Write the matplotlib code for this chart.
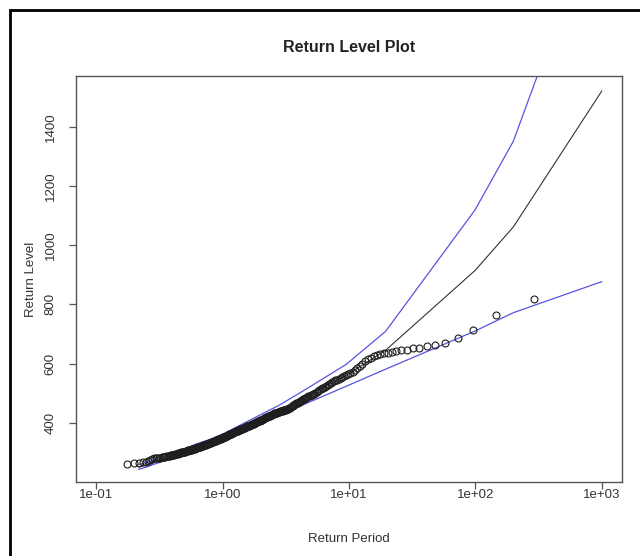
import matplotlib
matplotlib.use("Agg")
import matplotlib.pyplot as plt
import numpy as np
from matplotlib.patches import Rectangle
from matplotlib.ticker import FixedLocator, FixedFormatter, NullLocator

plt.rcParams['font.family'] = ['Liberation Sans', 'DejaVu Sans']

# ---- data ----
# sorted observed values (ascending)
obs = [261, 262, 264, 266, 268, 271, 273, 276, 279,
       280, 281, 281, 282, 283, 284, 284, 285, 286, 287, 287, 288, 289, 290, 290, 291, 292, 293, 293, 294,
       295, 296, 296, 297, 298, 299, 299, 300, 301, 302, 302, 303, 304, 305, 305,
       306, 306, 307, 308, 308, 309, 310, 310, 311, 312, 312, 313, 314, 315, 315, 316, 317, 317, 318, 319,
       319, 320, 321, 321, 322, 323, 323, 324, 325, 326, 326, 327, 328, 328, 329, 330, 330, 331, 332, 332,
       333, 334, 334, 335, 336, 337, 337, 338, 339, 339, 340, 341, 341, 342, 343, 343, 344, 345, 346,
       347, 347, 348, 349, 350, 351, 352, 352, 353, 354, 355, 356, 356, 357, 358, 359, 360, 361, 361, 362,
       363, 364, 365, 365, 366, 367, 368, 369, 370, 370, 371, 372, 373, 374, 374, 375, 376, 377, 378, 379,
       379, 380, 381, 382, 383, 383, 384, 385, 386, 387, 388, 388, 389, 390, 391, 392, 392, 393, 394, 395,
       396, 397,
       398, 399, 399, 401, 402, 403, 404, 404, 406, 407, 408, 409, 410, 410, 412, 413, 414, 415, 416, 418,
       419, 420, 421, 422, 422, 424, 425, 426, 427, 428, 430, 431, 432, 433, 433, 434, 435, 436, 437, 438,
       439, 440, 441, 442, 443, 444, 444, 445, 446,
       447, 449, 450, 453, 455, 456, 459, 461, 462, 465, 467, 468, 471, 473, 474, 477, 479, 481, 482, 485,
       487, 489, 490, 493, 495, 496,
       498, 500, 504, 507, 509, 513, 516, 518, 522, 525, 527, 531, 534, 536, 540, 543, 545, 549, 552,
       554, 557, 560, 564, 568, 573, 578, 584, 592, 600, 608, 614, 619, 624, 628, 631, 634, 637, 640, 642,
       645, 647, 651, 654, 658, 661, 671, 688, 715, 763, 820]

# return periods at which the fitted curve and the confidence bounds are evaluated
ret_period = [0.217, 0.256, 0.285, 0.311, 0.334, 0.355, 0.376, 0.396, 0.415, 0.434,
              0.621, 0.831, 1.091, 1.443, 1.958, 2.804, 4.481, 9.491, 19.50, 99.50, 199.5, 999.5]
fitted = [250, 259, 266, 271, 276, 280, 284, 288, 291, 295,
          320, 337, 358, 384, 411, 442, 487, 560, 645, 915, 1062, 1522]
lower_ci = [242, 251, 259, 264, 269, 273, 277, 281, 284, 288,
            312, 328, 347, 372, 397, 425, 463, 523, 581, 710, 772, 877]
upper_ci = [258, 267, 273, 278, 283, 287, 291, 295, 298, 302,
            328, 346, 369, 396, 425, 459, 511, 597, 709, 1120, 1352, 2167]

xticks = [0.1, 1, 10, 100, 1000]
xtick_labels = ["1e-01", "1e+00", "1e+01", "1e+02", "1e+03"]
yticks = [400, 600, 800, 1000, 1200, 1400]

# ---- figure ----
W, H = 640, 556
fig = plt.figure(figsize=(W / 100, H / 100), dpi=100)
left, right, top, bottom = 76, 622, 76, 482
ax = fig.add_axes([left / W, 1 - bottom / H, (right - left) / W, (bottom - top) / H])

n = len(obs)
ranks = np.arange(1, n + 1)
plot_pos = -1.0 / np.log(ranks / (n + 1.0))

ax.set_xscale('log')
ax.plot(ret_period, fitted, color='#333333', lw=0.8, zorder=2)
ax.plot(ret_period, lower_ci, color='#5555e0', lw=0.9, zorder=2)
ax.plot(ret_period, upper_ci, color='#5555e0', lw=0.9, zorder=2)
ax.plot(plot_pos, obs, linestyle='none', marker='o', markersize=5.0,
        markerfacecolor='none', markeredgecolor='#1e1e1e', markeredgewidth=0.8, zorder=3)

# R-style limits: 4% extension
lx0, lx1 = np.log10(0.1), np.log10(1000)
dx = 0.04 * (lx1 - lx0)
ax.set_xlim(10 ** (lx0 - dx), 10 ** (lx1 + dx))
ylo = min(min(obs), min(fitted))
yhi = max(max(obs), max(fitted))
dy = 0.04 * (yhi - ylo)
ax.set_ylim(ylo - dy, yhi + dy)

ax.xaxis.set_major_locator(FixedLocator(xticks))
ax.xaxis.set_major_formatter(FixedFormatter(xtick_labels))
ax.xaxis.set_minor_locator(NullLocator())
ax.set_yticks(yticks)
ax.set_yticklabels([str(v) for v in yticks], rotation=90, va='center')

for s in ax.spines.values():
    s.set_color('#555555')
    s.set_linewidth(1.0)
ax.tick_params(axis='both', direction='out', length=5, width=0.9, color='#555555',
               labelsize=9.5, labelcolor='#333333')
ax.tick_params(axis='x', pad=0)
ax.tick_params(axis='y', pad=9)

ax.set_title("Return Level Plot", fontsize=11.5, fontweight='bold', color='#222222',
             y=1 + 29 / (bottom - top), va='center', pad=0)
ax.set_xlabel("Return Period", fontsize=9.5, color='#333333')
ax.xaxis.set_label_coords(0.5, -57 / (bottom - top))
ax.xaxis.label.set_va('center')
ax.set_ylabel("Return Level", fontsize=9.5, color='#333333')
ax.yaxis.set_label_coords(-45 / (right - left), 0.5)
ax.yaxis.label.set_va('center')

# screenshot frame
fig.add_artist(Rectangle((10 / W, -0.1), 1.2, 1 - 10 / H + 0.1, transform=fig.transFigure,
                         fill=False, edgecolor='black', linewidth=2.0, clip_on=False))

fig.savefig("out.png", dpi=100)
